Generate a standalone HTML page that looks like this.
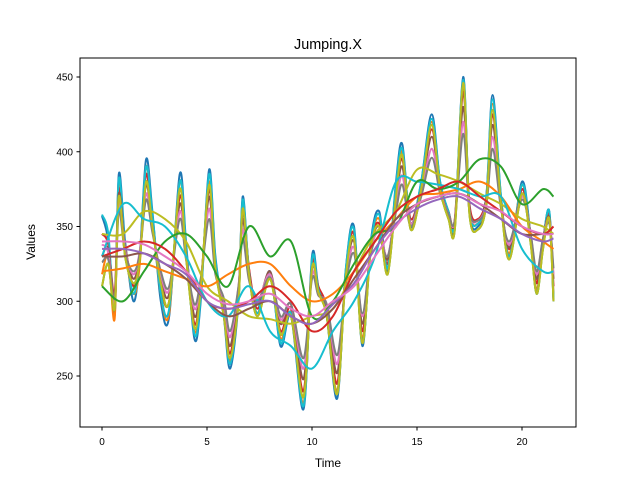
<!DOCTYPE html>
<html><head><meta charset="utf-8"><style>
body{margin:0;background:#fff}
svg text{font-family:"Liberation Sans","DejaVu Sans",sans-serif;fill:#000}
</style></head><body>
<svg id="c" width="640" height="480" xmlns="http://www.w3.org/2000/svg">
<rect width="640" height="480" fill="#fff"/>
<text x="328" y="49" font-size="14.4" text-anchor="middle">Jumping.X</text>
<g id="plot"></g>
<rect x="80" y="58" width="496" height="369" fill="none" stroke="#000" stroke-width="1"/>
<g id="axes"></g>
<text x="328" y="467" font-size="12" text-anchor="middle">Time</text>
<text x="35" y="242" font-size="12" text-anchor="middle" transform="rotate(-90 35 242)">Values</text>
</svg>
<script>
const xTicks=[0,5,10,15,20];
const yTicks=[250,300,350,400,450];
const T=[0,0.3,0.6,0.8,1.1,1.5,1.8,2.1,2.4,2.8,3.2,3.7,4.0,4.4,4.7,5.1,5.4,5.8,6.1,6.5,6.7,7.0,7.4,8.0,8.5,9.0,9.6,10.0,10.3,10.7,11.2,11.6,12.0,12.4,12.8,13.2,13.6,14.0,14.3,14.7,15.2,15.7,16.1,16.5,16.8,17.2,17.5,17.9,18.3,18.6,19.0,19.4,20.0,20.4,20.7,21.0,21.3,21.5];
const osc1=[357,340,290,385,340,300,330,395,360,300,290,385,340,275,300,388,330,290,255,300,370,320,290,320,270,290,228,330,310,290,235,320,350,270,340,360,320,380,405,350,380,425,380,360,350,450,360,350,370,438,370,330,380,345,305,340,360,300];
const osc2=[318,330,288,380,335,305,325,390,355,305,292,380,335,280,305,380,325,292,260,305,365,322,292,318,275,292,232,325,308,292,240,318,345,275,338,355,322,375,400,352,378,420,378,358,352,445,362,352,368,432,368,332,378,342,308,338,358,305];
const osc3=[345,338,305,375,338,310,330,385,352,310,300,370,335,285,310,375,325,295,265,305,360,322,295,318,280,295,240,325,310,295,245,318,345,280,338,352,325,372,395,355,378,415,378,360,355,440,365,355,370,425,368,335,375,345,312,340,358,310];
const osc4=[310,325,295,370,330,312,328,380,350,312,300,375,330,282,308,378,322,290,262,300,362,318,290,315,278,290,236,322,306,290,238,315,342,272,335,350,318,370,398,348,375,418,375,355,348,446,358,348,365,428,365,328,372,340,305,335,355,300];
const osc5=[358,345,295,382,338,305,332,390,358,305,295,380,338,278,302,385,328,292,258,302,368,320,292,318,272,292,230,328,308,292,238,320,348,272,338,358,322,378,402,352,380,422,380,360,352,448,362,352,370,435,370,330,378,345,305,340,360,302];
const osc6=[330,335,300,372,336,315,332,378,350,315,305,365,332,290,312,370,322,298,270,308,355,318,298,320,285,298,248,322,306,296,252,315,340,285,336,350,328,368,390,352,375,410,376,358,354,430,362,354,368,418,366,336,372,346,315,342,356,315];
const osc7=[338,332,298,366,334,318,334,372,348,318,308,360,330,295,314,362,320,300,276,310,348,316,300,318,288,298,255,318,304,298,258,312,336,290,334,346,330,364,384,352,372,402,374,358,354,420,360,354,366,410,364,338,370,346,318,342,354,318];
const osc8=[326,328,302,360,332,320,332,368,346,320,310,355,328,298,315,355,318,302,280,310,342,314,300,316,290,298,262,315,304,298,264,310,332,292,332,342,330,360,378,350,370,396,372,358,354,412,360,354,364,402,362,340,368,346,320,342,352,322];
const S=[0,1,2,3,4,5,6,7,8,9,10,11,12,13,14,15,16,17,18,19,20,21,21.5];
const pink=[340,340,338,330,320,305,298,300,305,295,290,300,310,330,350,365,370,372,365,360,350,345,345];
const purple=[335,335,332,325,318,300,295,298,300,290,285,298,312,335,352,362,368,370,362,355,345,340,342];
const orange=[320,322,325,320,315,310,318,325,325,310,300,305,320,340,355,370,372,375,380,370,350,340,335];
const olive=[345,345,360,355,340,310,300,290,288,285,290,295,320,345,360,388,385,380,372,365,355,350,345];
const cyanS=[330,365,355,350,330,300,290,310,280,270,255,280,300,330,380,380,378,375,370,370,335,320,320];
const greenS=[310,300,320,340,345,330,310,350,330,340,290,300,325,345,350,380,375,380,395,390,365,375,370];
const red=[330,335,340,335,320,300,295,300,310,300,280,290,320,340,360,370,375,380,370,360,350,345,350];
const brown=[330,330,332,325,315,300,290,295,300,290,285,295,315,335,355,365,370,372,365,355,345,345,345];
const X=t=>102+t*21, Y=v=>376-(v-250)*1.495;
const NS="http://www.w3.org/2000/svg";
const plot=document.getElementById('plot'), axes=document.getElementById('axes');
function path(ts,vs){const p=ts.map((t,i)=>[X(t),Y(vs[i])]);let d=`M${p[0][0]},${p[0][1]}`;
for(let i=0;i<p.length-1;i++){const a=p[Math.max(0,i-1)],b=p[i],c=p[i+1],e=p[Math.min(p.length-1,i+2)];
d+=`C${b[0]+(c[0]-a[0])/6},${b[1]+(c[1]-a[1])/6} ${c[0]-(e[0]-b[0])/6},${c[1]-(e[1]-b[1])/6} ${c[0]},${c[1]}`;}return d;}
function line(ts,vs,col,name){const el=document.createElementNS(NS,'path');el.setAttribute('d',path(ts,vs));
el.setAttribute('fill','none');el.setAttribute('stroke',col);el.setAttribute('stroke-width','2');


plot.appendChild(el);}
line(T,osc1,'#1f77b4','series-osc-1');line(T,osc2,'#ff7f0e','series-osc-2');line(T,osc3,'#d62728','series-osc-3');
line(T,osc4,'#2ca02c','series-osc-4');line(T,osc5,'#17becf','series-osc-5');
line(T,osc6,'#8c564b','series-osc-6');line(T,osc7,'#e377c2','series-osc-7');line(T,osc8,'#7f7f7f','series-osc-8');
line(T,osc4.map((v,i)=>v),'#bcbd22','series-osc-9');
line(S,olive,'#bcbd22','series-olive');line(S,orange,'#ff7f0e','series-orange');line(S,cyanS,'#17becf','series-cyan');
line(S,greenS,'#2ca02c','series-green');line(S,red,'#d62728','series-red');line(S,brown,'#8c564b','series-brown');
line(S,purple,'#9467bd','series-purple');line(S,pink,'#e377c2','series-pink');
xTicks.forEach(t=>{const l=document.createElementNS(NS,'line');l.setAttribute('x1',X(t));l.setAttribute('x2',X(t));l.setAttribute('y1',427);l.setAttribute('y2',430.5);l.setAttribute('stroke','#000');


axes.appendChild(l);const tx=document.createElementNS(NS,'text');tx.setAttribute('x',X(t));tx.setAttribute('y',445);tx.setAttribute('font-size','10');tx.setAttribute('text-anchor','middle');tx.textContent=t;


axes.appendChild(tx);});
yTicks.forEach(v=>{const l=document.createElementNS(NS,'line');l.setAttribute('x1',76.5);l.setAttribute('x2',80);l.setAttribute('y1',Y(v));l.setAttribute('y2',Y(v));l.setAttribute('stroke','#000');


axes.appendChild(l);const tx=document.createElementNS(NS,'text');tx.setAttribute('x',73);tx.setAttribute('y',Y(v)+3.5);tx.setAttribute('font-size','10');tx.setAttribute('text-anchor','end');tx.textContent=v;


axes.appendChild(tx);});
</script>
</body></html>
